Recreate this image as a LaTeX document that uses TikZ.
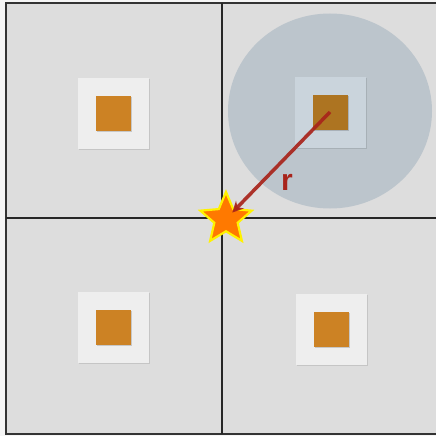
\documentclass[tikz,border=0pt]{standalone}
\usepackage{tikz}
\usepackage{fontspec}
\usepackage{xcolor}
\setsansfont{Liberation Sans}
\usetikzlibrary{arrows.meta}
\usetikzlibrary{shapes.geometric, shadows}

\definecolor{cellgray}{HTML}{DDDDDD}
\definecolor{padgray}{HTML}{EEEEEE}
\definecolor{chipbrown}{HTML}{CC8224}
\definecolor{rangeblue}{HTML}{D9E4EC}
\definecolor{arrowred}{HTML}{A8241B}

\tikzset{
  pad/.style={rectangle, minimum size=71pt, inner sep=0pt, fill=padgray,
    drop shadow={shadow xshift=1.5pt, shadow yshift=-1.5pt, opacity=0.25}},
  chip/.style={rectangle, minimum size=35pt, inner sep=0pt, fill=chipbrown,
    drop shadow={shadow xshift=1.5pt, shadow yshift=-1.5pt, opacity=0.35}},
}

\begin{document}
\begin{tikzpicture}[x=1pt, y=-1pt, line width=1.5pt]
    \fill[black!4] (0,0) rectangle (436,436);
    \useasboundingbox (0,0) rectangle (436,436);
    \fill[cellgray] (6,3) rectangle (436,434);

    % grid
    \draw[black!80, line width=2.5pt] (436,3) -- (6,3) -- (6,434) -- (436,434);
    \draw[black!85] (222,3) -- (222,434);
    \draw[black!85] (6,218) -- (436,218);

    % pads and chips
    \foreach \n/\x/\y in {a/113/113, b/330/112, c/113/327, d/331/329} {
        \node[pad] (pad\n) at (\x,\y) {};
        \node[chip] (chip\n) at (\x,\y) {};
    }

    % range of chip b
    \node[ellipse, minimum width=204pt, minimum height=195pt, fill=rangeblue,
        blend mode=multiply] (range) at (330,111) {};

    \node[star, star points=5, star point ratio=2.2, minimum size=54pt,
        inner sep=0pt, fill=orange!95!red, draw=yellow, line width=2.2pt] (site) at (226,219) {};

    \draw[-{Stealth[length=11pt, width=11pt]}, arrowred, opacity=0.92, line width=3.5pt,
        shorten >=9pt] (chipb.center) -- (site.center);
    \node[text=arrowred, font=\fontsize{30}{30}\selectfont\sffamily\bfseries] (rlabel) at (287,182) {r};
\end{tikzpicture}
\end{document}
